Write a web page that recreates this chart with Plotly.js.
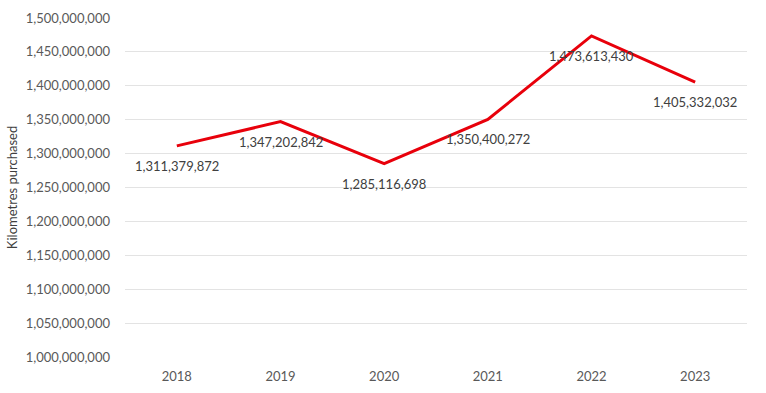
<!DOCTYPE html>
<html><head><meta charset="utf-8">
<script src="https://cdn.plot.ly/plotly-3.0.1.min.js"></script>
<style>html,body{margin:0;padding:0;background:#fff}#c{width:766px;height:393px}</style>
</head><body><div id="c"></div>
<script>
const years = [2018, 2019, 2020, 2021, 2022, 2023];
const km = [1311379872, 1347202842, 1285116698, 1350400272, 1473613430, 1405332032];
const yTicks = [1000000000,1050000000,1100000000,1150000000,1200000000,1250000000,1300000000,1350000000,1400000000,1450000000,1500000000];

const fmt = v => v.toLocaleString('en-US');
const font = 'Lato, "Open Sans", sans-serif';

const annotations = years.map((y,i)=>({
  x: y, y: km[i], xref:'x', yref:'y', text: fmt(km[i]), showarrow:false,
  yshift:-20, font:{family:font, size:13, color:'#404040'}
}));

Plotly.newPlot('c', [{
  x: years, y: km, type:'scatter', mode:'lines',
  line:{color:'#e8000b', width:3}, hoverinfo:'none'
}], {
  width:766, height:393,
  margin:{l:125, r:19, t:18, b:36},
  paper_bgcolor:'#fff', plot_bgcolor:'#fff',
  showlegend:false,
  xaxis:{range:[2017.5, 2023.5], tickvals:years, ticktext:years.map(String),
    showgrid:false, zeroline:false, showline:false, ticks:'', ticklabelstandoff:10,
    tickfont:{family:font, size:13, color:'#595959'}},
  yaxis:{range:[1000000000,1500000000], tickvals:yTicks, ticktext:yTicks.map(fmt),
    showgrid:true, gridcolor:'#e3e3e3', gridwidth:1, zeroline:false, showline:false, ticks:'',
    ticklabelstandoff:14,
    tickfont:{family:font, size:13, color:'#595959'},
    title:{text:'Kilometres purchased', standoff:5, font:{family:font, size:13, color:'#404040'}}},
  annotations: annotations
}, {staticPlot:true});
</script></body></html>
